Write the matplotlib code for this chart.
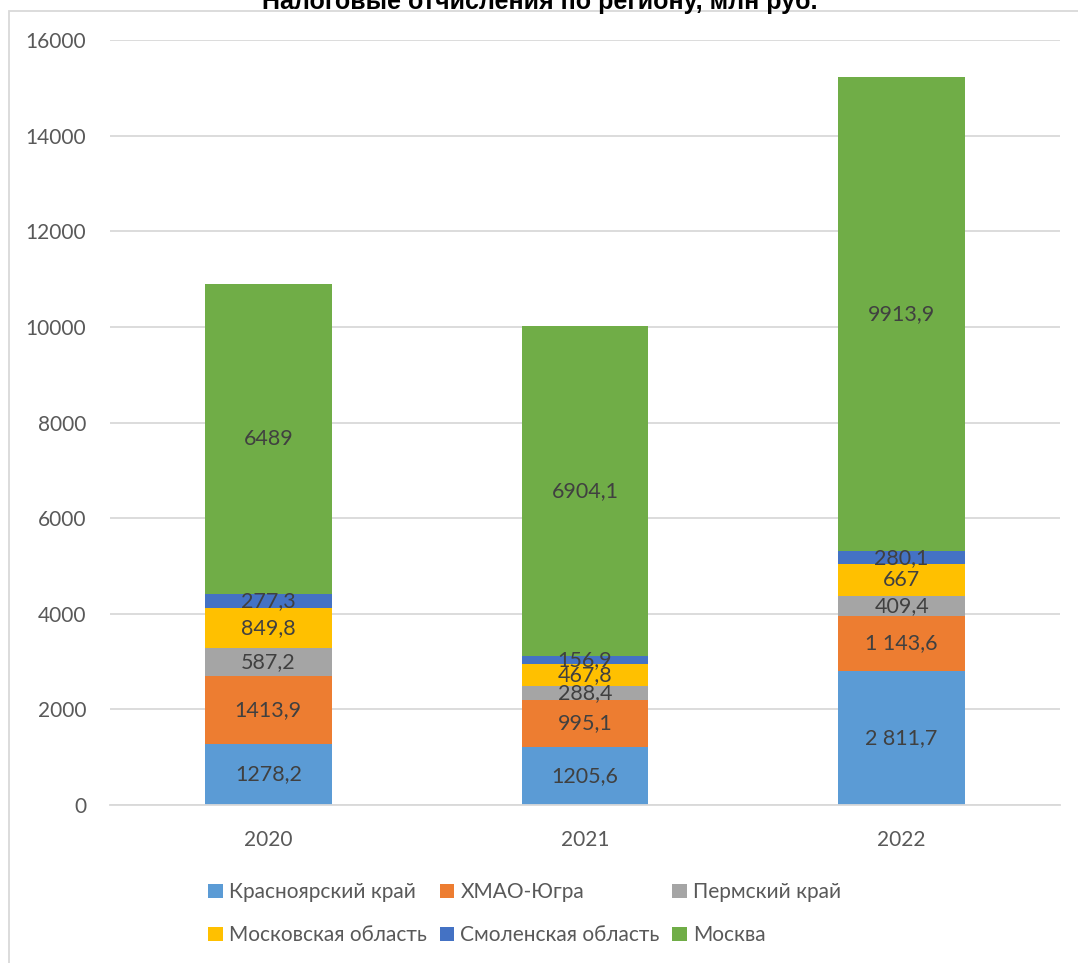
"""Stacked bars: tax deductions by region, 2020-2022 (mln rub)."""
import matplotlib

matplotlib.use("Agg")

import matplotlib.pyplot as plt  # noqa: E402
import numpy as np  # noqa: E402
from matplotlib.patches import Rectangle  # noqa: E402

YEARS = ["2020", "2021", "2022"]
REGIONS = ["Красноярский край", "ХМАО-Югра", "Пермский край",
           "Московская область", "Смоленская область", "Москва"]
COLORS = ["#5B9BD5", "#ED7D31", "#A5A5A5", "#FFC000", "#4472C4", "#70AD47"]

krasnoyarsk = [1278.2, 1205.6, 2811.7]
khmao = [1413.9, 995.1, 1143.6]
perm = [587.2, 288.4, 409.4]
mosobl = [849.8, 467.8, 667.0]
smolensk = [277.3, 156.9, 280.1]
moscow = [6489.0, 6904.1, 9913.9]
SERIES = [krasnoyarsk, khmao, perm, mosobl, smolensk, moscow]

LABELS = [
    ["1278,2", "1205,6", "2 811,7"],
    ["1413,9", "995,1", "1 143,6"],
    ["587,2", "288,4", "409,4"],
    ["849,8", "467,8", "667"],
    ["277,3", "156,9", "280,1"],
    ["6489", "6904,1", "9913,9"],
]

TITLE = "Налоговые отчисления по региону, млн руб."
W, H = 1078, 963
FONT = "Lato"
TXT = "#595959"


def main() -> None:
    plt.rcParams["font.family"] = [FONT, "DejaVu Sans"]
    fig = plt.figure(figsize=(W / 100, H / 100), dpi=100)
    ax = fig.add_axes([110 / W, (H - 805) / H, 950 / W, 765 / H])

    x = np.arange(len(YEARS))
    bottom = np.zeros(len(YEARS))
    handles = []
    for vals, labs, col, name in zip(SERIES, LABELS, COLORS, REGIONS):
        v = np.array(vals)
        bars = ax.bar(x, v, width=0.4, bottom=bottom, color=col, label=name,
                      zorder=2)
        handles.append(bars)
        for xi, b, h, t in zip(x, bottom, v, labs):
            ax.text(xi, b + h / 2, t, ha="center", va="center", fontsize=15.5,
                    color="#404040", zorder=3)
        bottom += v

    ax.set_xlim(-0.5, 2.5)
    ax.set_ylim(0, 16000)
    ax.set_yticks(np.arange(0, 16001, 2000))
    ax.set_xticks(x)
    ax.set_xticklabels(YEARS)
    ax.tick_params(axis="both", length=0, labelsize=15, labelcolor=TXT)
    ax.tick_params(axis="y", pad=17)
    ax.tick_params(axis="x", pad=18)
    ax.grid(axis="y", color="#D9D9D9", lw=1.3, zorder=0)
    for s in ("left", "right", "top"):
        ax.spines[s].set_visible(False)
    ax.spines["bottom"].set_color("#D9D9D9")
    ax.spines["bottom"].set_linewidth(1.3)

    # matplotlib fills legend columns first; reorder so rows read left to right
    order = [0, 3, 1, 4, 2, 5]
    leg = fig.legend([handles[i] for i in order], [REGIONS[i] for i in order],
                     loc="upper left", bbox_to_anchor=(198 / W, 1 - 872 / H),
                     ncol=3, frameon=False, fontsize=15, handlelength=0.7,
                     handleheight=0.7, handletextpad=0.3, columnspacing=0.6,
                     labelspacing=1.1, borderpad=0)
    for t in leg.get_texts():
        t.set_color(TXT)

    # chart-area border, cropped at right and bottom
    fig.add_artist(Rectangle((9 / W, -0.1), 1.2, (H - 11.5) / H + 0.1,
                             transform=fig.transFigure, fill=False,
                             ec="#D9D9D9", lw=1.3))
    fig.text(540 / W, 1 - 9 / H, TITLE, ha="center", va="baseline",
             fontsize=18, fontweight="bold", color="black",
             family=["Liberation Sans", "DejaVu Sans"])

    fig.savefig("out.png", dpi=100)
    plt.close(fig)


if __name__ == "__main__":
    main()
